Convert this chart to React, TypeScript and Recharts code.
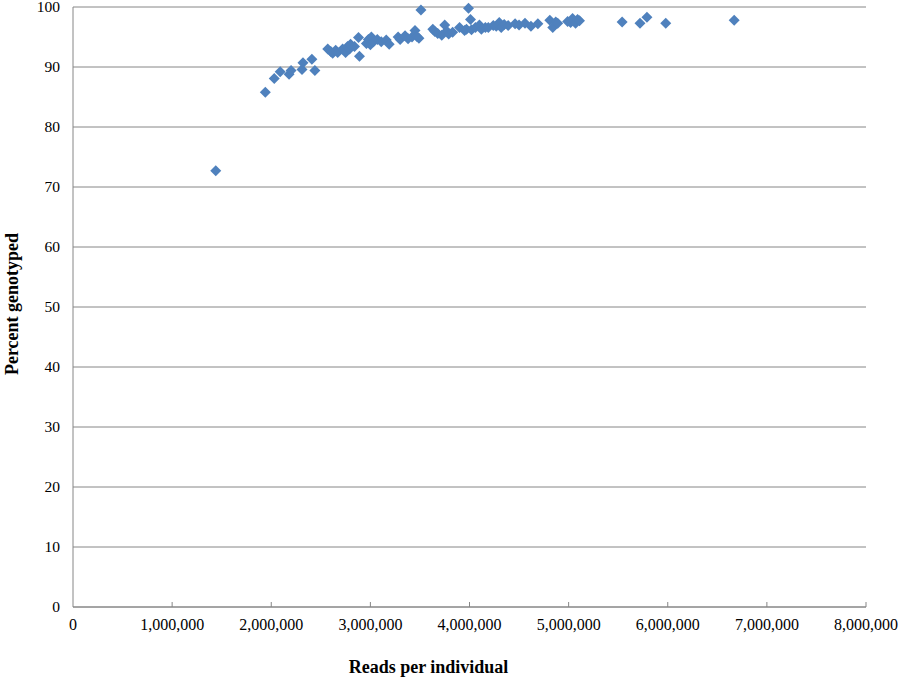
// Percent genotyped vs reads per individual (scatter, Excel-style look).

import { CartesianGrid, Scatter, ScatterChart, XAxis, YAxis } from "recharts";

const readsPerIndividual = [
  1440000, 1940000, 2030000, 2090000, 2180000, 2200000, 2310000, 2320000,
  2410000, 2440000, 2570000, 2600000, 2620000, 2650000, 2670000, 2720000,
  2750000, 2770000, 2790000, 2800000, 2840000, 2880000, 2890000, 2960000,
  2980000, 3000000, 3010000, 3030000, 3070000, 3110000, 3160000, 3190000,
  3280000, 3300000, 3350000, 3380000, 3420000, 3450000, 3470000, 3490000,
  3510000, 3630000, 3650000, 3680000, 3720000, 3750000, 3770000, 3790000,
  3830000, 3900000, 3950000, 3970000, 3990000, 4010000, 4020000, 4060000,
  4100000, 4120000, 4160000, 4190000, 4240000, 4270000, 4300000, 4320000,
  4350000, 4390000, 4460000, 4500000, 4560000, 4620000, 4690000, 4810000,
  4840000, 4870000, 4890000, 4990000, 5020000, 5040000, 5070000, 5090000,
  5110000, 5540000, 5720000, 5790000, 5980000, 6670000,
];

const percentGenotyped = [
  72.7, 85.8, 88.1, 89.2, 88.8, 89.4, 89.6, 90.7,
  91.3, 89.4, 93.0, 92.6, 92.3, 92.8, 92.4, 93.0,
  92.4, 93.4, 93.0, 93.8, 93.4, 94.9, 91.8, 93.9,
  94.6, 93.7, 95.0, 94.2, 94.6, 94.2, 94.5, 93.8,
  95.0, 94.6, 95.2, 94.7, 95.0, 96.1, 95.1, 94.8,
  99.5, 96.3, 95.9, 95.6, 95.3, 97.0, 96.0, 95.5,
  95.8, 96.6, 96.1, 96.3, 99.8, 97.9, 96.2, 96.6,
  97.0, 96.3, 96.6, 96.6, 96.9, 96.8, 97.4, 96.6,
  97.1, 96.9, 97.2, 97.0, 97.3, 96.8, 97.2, 97.8,
  96.6, 97.5, 97.3, 97.6, 97.4, 98.1, 97.3, 97.9,
  97.7, 97.5, 97.3, 98.3, 97.3, 97.8,
];

const xTicks = [0, 1000000, 2000000, 3000000, 4000000, 5000000, 6000000, 7000000, 8000000];
const yTicks = [0, 10, 20, 30, 40, 50, 60, 70, 80, 90, 100];

const points = readsPerIndividual.map((reads, i) => ({
  reads,
  percent: percentGenotyped[i],
}));

const AXIS_GRAY = "#868686";
const MARKER_BLUE = "#4F81BD";
const FONT = "'Liberation Serif', 'Times New Roman', serif";

const xTickStyle = { fontFamily: FONT, fontSize: 16, fill: "#000" };
const yTickStyle = { fontFamily: FONT, fontSize: 15.5, fill: "#000" };
const titleStyle = { fontFamily: FONT, fontSize: 18, fontWeight: 700, fill: "#000" };

function Diamond(props: any) {
  const { cx, cy } = props;
  const r = 5.5;
  return (
    <path
      d={`M${cx},${cy - r}L${cx + r},${cy}L${cx},${cy + r}L${cx - r},${cy}Z`}
      fill={MARKER_BLUE}
    />
  );
}

// Excel draws the x tick marks on the inside of the axis
function XTick(props: any) {
  const { x, y, payload } = props;
  return (
    <g>
      {payload.value !== 0 && (
        <line x1={x} x2={x} y1={y - 5} y2={y} stroke={AXIS_GRAY} />
      )}
      <text x={x} y={y + 23} textAnchor="middle" style={xTickStyle}>
        {payload.value.toLocaleString("en-US")}
      </text>
    </g>
  );
}

function YTick(props: any) {
  const { x, y, payload } = props;
  return (
    <text x={x} y={y + 5} textAnchor="end" style={yTickStyle}>
      {payload.value}
    </text>
  );
}

export default function App() {
  return (
    <div style={{ position: "absolute", left: 0, top: 0, background: "#fff" }}>
      <ScatterChart
        width={902}
        height={680}
        margin={{ top: 7, right: 36, bottom: 0, left: 0 }}
      >
        <CartesianGrid vertical={false} stroke={AXIS_GRAY} />
        <XAxis
          type="number"
          dataKey="reads"
          domain={[0, 8000000]}
          ticks={xTicks}
          interval={0}
          height={73}
          tickSize={0}
          tickMargin={0}
          axisLine={{ stroke: AXIS_GRAY }}
          tick={<XTick />}
          label={{
            content: ({ viewBox }: any) => (
              <text
                x={viewBox.x + viewBox.width / 2 - 41}
                y={viewBox.y + 66}
                textAnchor="middle"
                style={titleStyle}
              >
                Reads per individual
              </text>
            ),
          }}
        />
        <YAxis
          type="number"
          dataKey="percent"
          domain={[0, 100]}
          ticks={yTicks}
          interval={0}
          width={73}
          tickLine={false}
          tickSize={0}
          tickMargin={13}
          axisLine={{ stroke: AXIS_GRAY }}
          tick={<YTick />}
          label={{
            content: ({ viewBox }: any) => {
              const tx = 18;
              const ty = viewBox.y + viewBox.height / 2 - 3;
              return (
                <text
                  x={tx}
                  y={ty}
                  transform={`rotate(-90, ${tx}, ${ty})`}
                  textAnchor="middle"
                  style={titleStyle}
                >
                  Percent genotyped
                </text>
              );
            },
          }}
        />
        <Scatter data={points} shape={<Diamond />} isAnimationActive={false} />
      </ScatterChart>
    </div>
  );
}
